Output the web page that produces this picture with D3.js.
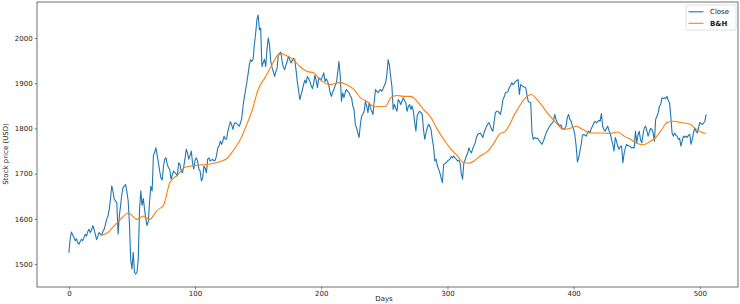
<!DOCTYPE html>
<html>
<head>
<meta charset="utf-8">
<script src="https://cdn.jsdelivr.net/npm/d3@7/dist/d3.min.js"></script>
<style>
  html, body { margin: 0; padding: 0; background: #fff; }
  svg { display: block; font-family: "DejaVu Sans", sans-serif; }
</style>
</head>
<body>
<svg id="chart" width="740" height="304"></svg>
<script>
// ─── Data ─────────────────────────────────────────────────────────────────────
const closeValues = [
  1525,1555,1571,1565,1559,1552,1556,1547,1544,1550,
  1555,1552,1559,1566,1562,1572,1577,1570,1575,1585,
  1577,1565,1554,1562,1570,1566,1564,1572,1577,1588,
  1600,1606,1621,1645,1673,1660,1643,1640,1635,1566,
  1607,1630,1655,1669,1673,1676,1660,1640,1590,1510,
  1489,1526,1482,1478,1482,1511,1620,1662,1630,1645,
  1621,1600,1585,1595,1640,1672,1662,1740,1748,1757,
  1740,1724,1705,1690,1686,1717,1732,1735,1720,1713,
  1708,1688,1698,1706,1702,1700,1695,1724,1721,1706,
  1702,1715,1732,1754,1746,1732,1740,1750,1724,1710,
  1730,1735,1728,1710,1706,1684,1690,1717,1712,1702,
  1732,1735,1728,1730,1732,1728,1730,1740,1757,1761,
  1772,1765,1772,1783,1776,1777,1794,1805,1815,1808,
  1798,1810,1813,1810,1808,1805,1812,1823,1849,1868,
  1885,1901,1920,1941,1952,1948,1953,1985,2010,2040,
  2051,2018,2022,1937,1945,1953,1937,1975,2000,1985,
  1948,1935,1926,1915,1925,1933,1963,1966,1969,1948,
  1935,1930,1940,1948,1960,1952,1945,1950,1955,1952,
  1930,1904,1885,1864,1874,1885,1897,1907,1900,1915,
  1910,1904,1895,1888,1900,1918,1905,1890,1912,1910,
  1908,1915,1923,1904,1910,1904,1895,1880,1871,1880,
  1886,1895,1901,1923,1948,1920,1860,1879,1868,1880,
  1886,1882,1879,1872,1868,1850,1842,1809,1801,1790,
  1780,1809,1827,1832,1838,1860,1850,1835,1857,1845,
  1838,1831,1860,1886,1882,1879,1884,1886,1882,1888,
  1895,1901,1919,1952,1940,1915,1893,1842,1853,1845,
  1838,1864,1860,1853,1860,1868,1862,1857,1838,1848,
  1853,1842,1850,1838,1815,1794,1827,1835,1838,1835,
  1831,1798,1776,1790,1801,1809,1805,1798,1776,1760,
  1728,1732,1718,1710,1702,1690,1680,1721,1722,1724,
  1728,1730,1732,1738,1735,1739,1735,1732,1728,1730,
  1724,1700,1688,1724,1730,1739,1745,1757,1750,1746,
  1755,1762,1768,1780,1787,1788,1790,1785,1780,1790,
  1798,1805,1810,1813,1805,1798,1794,1815,1835,1838,
  1838,1835,1831,1845,1864,1870,1879,1880,1882,1890,
  1895,1901,1897,1900,1904,1906,1908,1875,1897,1895,
  1893,1891,1890,1875,1860,1858,1857,1790,1776,1780,
  1778,1779,1776,1772,1768,1765,1772,1780,1788,1795,
  1800,1805,1809,1812,1816,1831,1820,1813,1810,1805,
  1808,1800,1798,1800,1805,1825,1831,1820,1816,1805,
  1798,1785,1761,1726,1735,1750,1765,1785,1787,1785,
  1783,1790,1794,1790,1800,1805,1812,1816,1812,1815,
  1818,1816,1833,1805,1798,1794,1800,1805,1795,1790,
  1776,1765,1750,1780,1772,1760,1754,1760,1761,1724,
  1745,1757,1765,1762,1761,1760,1757,1758,1757,1794,
  1768,1785,1794,1775,1768,1787,1801,1805,1795,1783,
  1792,1800,1798,1790,1772,1820,1827,1835,1849,1853,
  1868,1866,1868,1866,1871,1862,1857,1827,1790,1783,
  1790,1785,1783,1776,1778,1761,1772,1783,1780,1783,
  1780,1785,1787,1765,1776,1790,1801,1794,1790,1801,
  1813,1811,1809,1812,1816,1831
];

const bhDays = [
  26,31,37,42,47,54,59,64,70,75,80,86,92,97,104,111,120,125,130,136,
  141,145,150,156,161,166,169,173,178,183,189,194,199,207,215,220,226,231,236,242,
  251,255,260,265,271,276,281,287,292,297,302,308,313,317,321,326,332,337,341,346,
  354,362,366,373,379,386,392,398,402,407,414,421,429,435,440,445,451,455,460,465,
  469,474,480,485,492,496,501,505
];
const bhValues = [
  1564,1570,1588,1602,1613,1599,1606,1599,1619,1630,1680,1697,1714,1717,1719,1721,1727,1733,1750,1776,
  1809,1838,1886,1915,1941,1963,1965,1960,1952,1937,1926,1923,1908,1897,1902,1897,1886,1868,1860,1848,
  1849,1868,1873,1871,1871,1860,1842,1824,1798,1776,1757,1739,1724,1723,1728,1739,1750,1768,1787,1794,
  1835,1868,1875,1857,1835,1813,1798,1801,1805,1798,1790,1790,1789,1792,1783,1776,1766,1764,1770,1780,
  1794,1813,1816,1813,1810,1801,1792,1789
];

const xTicks = [0, 100, 200, 300, 400, 500];
const yTicks = [1500, 1600, 1700, 1800, 1900, 2000];
const seriesNames = ['Close', 'B&H'];
const seriesColors = ['#1f77b4', '#ff7f0e'];

// ─── Layout ───────────────────────────────────────────────────────────────────
const plot = { left: 37, top: 2, right: 738, bottom: 287 };
const fontSize = 7;

const svg = d3.select('#chart');

const closeData = closeValues.map((v, i) => [i, v]);
const bhData    = bhDays.map((d, i) => [d, bhValues[i]]);

// matplotlib-style 5% margins
const xExt = [0, closeValues.length - 1];
const yExt = d3.extent(closeValues.concat(bhValues));
const xPad = (xExt[1] - xExt[0]) * 0.05;
const yPad = (yExt[1] - yExt[0]) * 0.05;

const x = d3.scaleLinear().domain([xExt[0] - xPad, xExt[1] + xPad]).range([plot.left, plot.right]);
const y = d3.scaleLinear().domain([yExt[0] - yPad, yExt[1] + yPad]).range([plot.bottom, plot.top]);

svg.append('defs').append('clipPath').attr('id', 'clip')
  .append('rect')
  .attr('x', plot.left).attr('y', plot.top)
  .attr('width', plot.right - plot.left).attr('height', plot.bottom - plot.top);

// ─── Lines ────────────────────────────────────────────────────────────────────
const line   = d3.line().x(d => x(d[0])).y(d => y(d[1]));
const smooth = d3.line().x(d => x(d[0])).y(d => y(d[1])).curve(d3.curveMonotoneX);

const g = svg.append('g').attr('clip-path', 'url(#clip)');
g.append('path').datum(closeData)
  .attr('d', line)
  .attr('fill', 'none')
  .attr('stroke', seriesColors[0])
  .attr('stroke-width', 1.1)
  .attr('stroke-linejoin', 'round');
g.append('path').datum(bhData)
  .attr('d', smooth)
  .attr('fill', 'none')
  .attr('stroke', seriesColors[1])
  .attr('stroke-width', 1.1)
  .attr('stroke-linejoin', 'round');

// ─── Axes ─────────────────────────────────────────────────────────────────────
const xAxis = svg.append('g')
  .attr('transform', `translate(0,${plot.bottom})`)
  .call(d3.axisBottom(x).tickValues(xTicks).tickSize(2.4).tickPadding(2).tickFormat(d3.format('d')));
const yAxis = svg.append('g')
  .attr('transform', `translate(${plot.left},0)`)
  .call(d3.axisLeft(y).tickValues(yTicks).tickSize(2.4).tickPadding(2).tickFormat(d3.format('d')));

[xAxis, yAxis].forEach(a => {
  a.select('.domain').remove();
  a.selectAll('.tick line').attr('stroke', '#333').attr('stroke-width', 0.6);
  a.selectAll('.tick text')
    .attr('font-size', fontSize)
    .attr('font-family', '"DejaVu Sans", sans-serif')
    .attr('fill', '#222');
});

// frame
svg.append('rect')
  .attr('x', plot.left).attr('y', plot.top)
  .attr('width', plot.right - plot.left).attr('height', plot.bottom - plot.top)
  .attr('fill', 'none').attr('stroke', '#333').attr('stroke-width', 0.7);

// axis labels
svg.append('text')
  .attr('x', 384).attr('y', 301)
  .attr('text-anchor', 'middle')
  .attr('font-size', fontSize).attr('fill', '#222')
  .text('Days');
svg.append('text')
  .attr('transform', 'translate(7.8,154) rotate(-90)')
  .attr('text-anchor', 'middle')
  .attr('font-size', fontSize).attr('fill', '#222')
  .text('Stock price (USD)');

// ─── Legend ───────────────────────────────────────────────────────────────────
const lg = svg.append('g').attr('transform', 'translate(686,5)');
lg.append('rect')
  .attr('width', 50).attr('height', 25).attr('rx', 1.5)
  .attr('fill', '#fff').attr('fill-opacity', 0.8)
  .attr('stroke', '#ccc').attr('stroke-width', 0.6);
seriesNames.forEach((name, i) => {
  const yy = 6.8 + i * 11.5;
  lg.append('line')
    .attr('x1', 2.5).attr('x2', 17.5).attr('y1', yy).attr('y2', yy)
    .attr('stroke', seriesColors[i]).attr('stroke-width', 1.1);
  lg.append('text')
    .attr('x', 24).attr('y', yy + 2.5)
    .attr('font-size', fontSize).attr('fill', '#222')
    .attr('font-weight', i === 1 ? 'bold' : 'normal')
    .text(name);
});
</script>
</body>
</html>
